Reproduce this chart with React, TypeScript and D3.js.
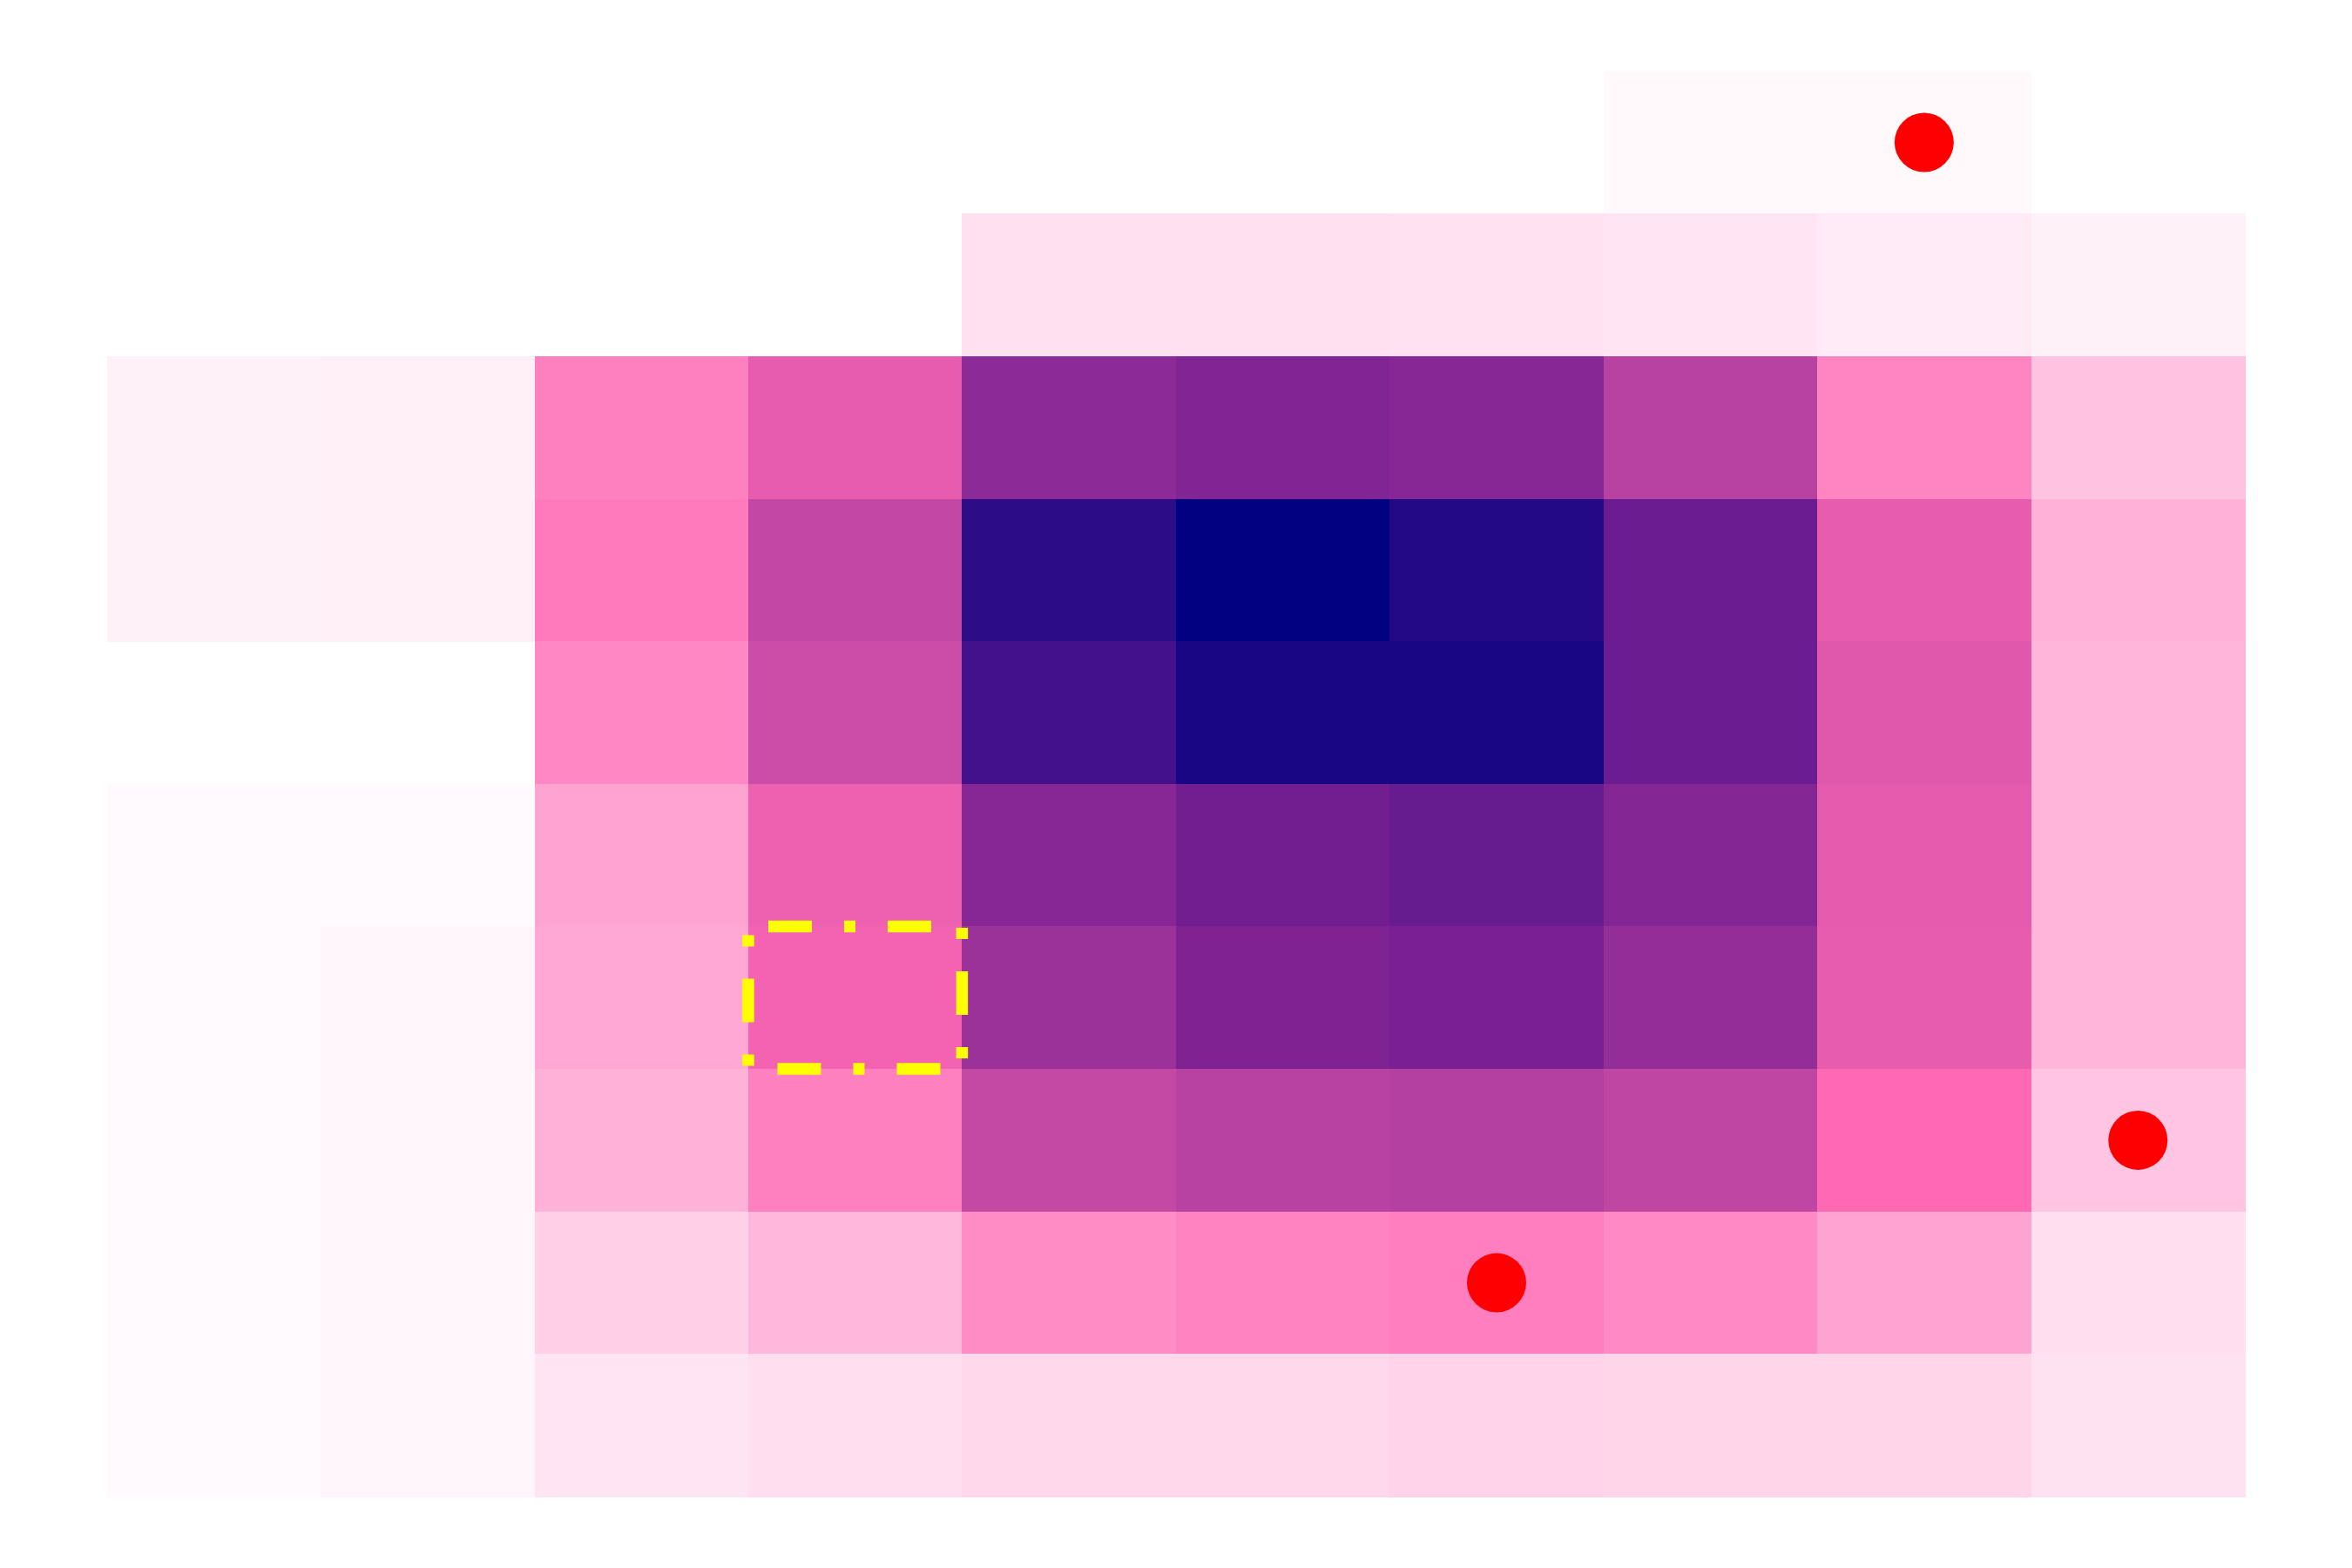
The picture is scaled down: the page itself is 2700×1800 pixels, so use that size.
import React from "react";
import * as d3 from "d3";

const rows = ["r0", "r1", "r2", "r3", "r4", "r5", "r6", "r7", "r8", "r9"];
const cols = ["c0", "c1", "c2", "c3", "c4", "c5", "c6", "c7", "c8", "c9"];

const values: (number | null)[][] = [
  [null, null, null, null, null, null, null, 1.5, 1.7, null],
  [null, null, null, null, 8.3, 8.3, 8.0, 7.2, 5.6, 3.7],
  [3.7, 4.3, 34, 45.2, 66, 68.4, 67, 56, 32.5, 16.3],
  [3.7, 4.3, 35.5, 53.5, 89, 100, 91.6, 74, 45.2, 20.8],
  [null, null, 31.7, 51.5, 83.5, 94, 94, 74, 47, 19.7],
  [1.3, 1.3, 24.5, 43.8, 67.3, 72, 75, 67.8, 46, 19.7],
  [1.3, 2.7, 23.2, 42.5, 62.8, 68.9, 69.8, 64.4, 45.2, 19.7],
  [1.3, 2.7, 20.8, 33.9, 53.3, 56.2, 56.9, 54.2, 40, 15.5],
  [1.3, 2.7, 12.5, 18.9, 30.7, 33.3, 34.4, 31.5, 24.3, 8.8],
  [1.3, 2.7, 7.2, 8.8, 10.4, 10.4, 11.7, 11.2, 11.2, 7.7],
];

const markers = [
  { row: 0, col: 8 },
  { row: 7, col: 9 },
  { row: 8, col: 6 },
];

const highlight = { row: 6, col: 3 };

const colorStops = [0, 40, 70, 100];
const colorRange = ["#ffffff", "#ff69b4", "#7a2092", "#000080"];

export default function App() {
  const W = 2700;
  const H = 1800;
  const x = d3.scaleBand<string>().domain(cols).range([122.7, 2577]).padding(0);
  const y = d3.scaleBand<string>().domain(rows).range([81.7, 1718]).padding(0);
  const color = d3
    .scaleLinear<string>()
    .domain(colorStops)
    .range(colorRange)
    .interpolate(d3.interpolateRgb)
    .clamp(true);

  const cells: { r: number; c: number; v: number }[] = [];
  values.forEach((row, r) =>
    row.forEach((v, c) => {
      if (v !== null) cells.push({ r, c, v });
    })
  );

  const bw = x.bandwidth();
  const bh = y.bandwidth();

  return (
    <svg
      width={W}
      height={H}
      style={{ position: "absolute", left: 0, top: 0, background: "#ffffff" }}
    >
      <rect x={0} y={0} width={W} height={H} fill="#ffffff" />
      <g shapeRendering="crispEdges">
        {cells.map((d) => (
          <rect
            key={`${d.r}-${d.c}`}
            x={x(cols[d.c])}
            y={y(rows[d.r])}
            width={bw + 0.5}
            height={bh + 0.5}
            fill={color(d.v)}
          />
        ))}
      </g>
      <rect
        x={x(cols[highlight.col])}
        y={y(rows[highlight.row])}
        width={bw}
        height={bh}
        fill="none"
        stroke="#ffff00"
        strokeWidth={13.5}
        strokeDasharray="50 37 13 37"
        strokeDashoffset={114}
      />
      {markers.map((m, i) => (
        <circle
          key={i}
          cx={(x(cols[m.col]) as number) + bw / 2}
          cy={(y(rows[m.row]) as number) + bh / 2}
          r={34}
          fill="#ff0000"
        />
      ))}
    </svg>
  );
}
